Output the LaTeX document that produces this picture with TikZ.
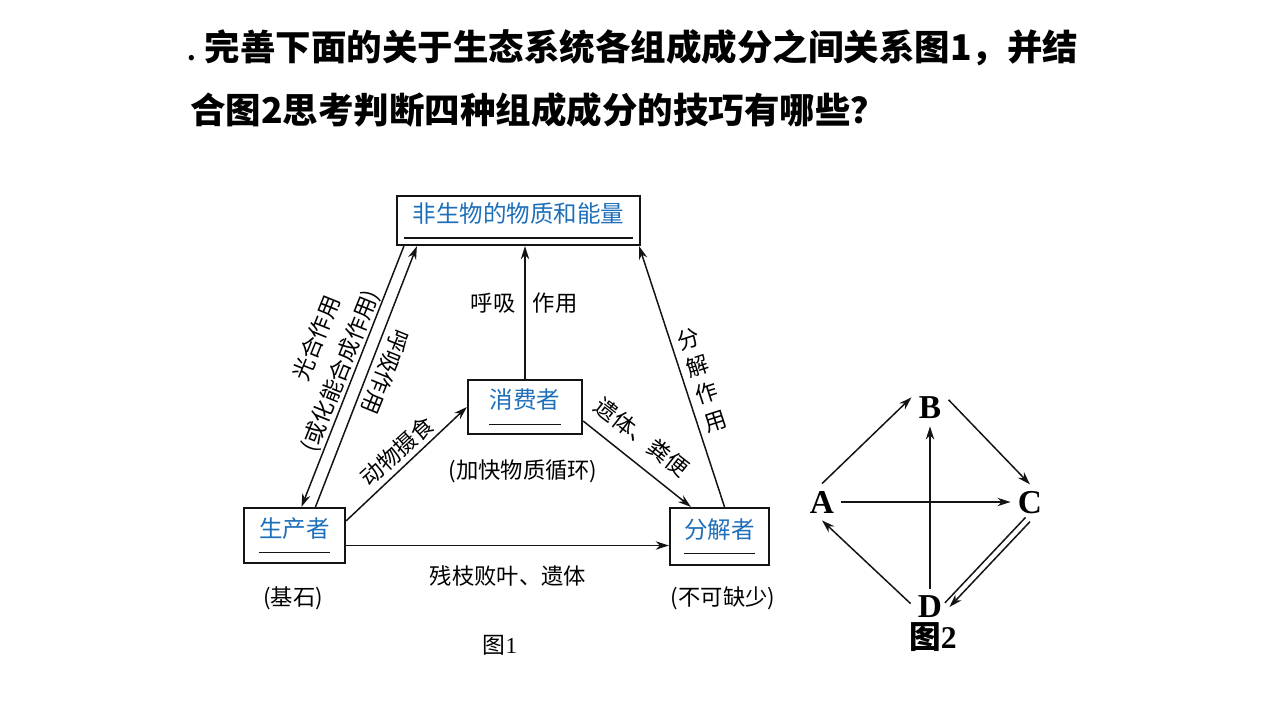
\documentclass[tikz,border=0pt]{standalone}
\usepackage{fontspec}
\usepackage{xcolor}
\usepackage{tikz}
\usetikzlibrary{arrows.meta,calc}
\setmainfont{Liberation Serif}
\newfontfamily\cjk{Noto Sans CJK SC}
\definecolor{blueans}{HTML}{1E6FBA}
\definecolor{blackline}{HTML}{141414}
\tikzset{every node/.append style={font=\cjk}}

\begin{document}
\begin{tikzpicture}[x=0.02cm,y=-0.02cm,>={Stealth[length=7.5pt,width=4.8pt]},
  comp/.style={draw=blackline,line width=1.3pt,align=center,inner sep=0pt,
    text=blueans,font=\cjk\fontsize{13.4}{9.2}\selectfont},
  lbl/.style={font=\cjk\fontsize{12.7}{16.3}\selectfont,inner sep=1pt},
  arr/.style={->,line width=0.85pt,blackline},
  letter/.style={font=\bfseries\fontsize{19}{19}\selectfont,inner sep=4pt},
  ttl/.style={anchor=west,inner sep=0pt,font=\cjk\bfseries\fontsize{20.2}{24}\selectfont}]
  \useasboundingbox (0,0) rectangle (1280,720);
  \node[ttl] (title1) at (187,48) {{\fontsize{14}{14}\selectfont.}\hspace{5pt}完善下面的关于生态系统各组成成分之间关系图1，并结};
  \node[ttl] (title2) at (190,110) {合图2思考判断四种组成成分的技巧有哪些？};
  \begin{scope}
    \node[comp,minimum width=4.86cm,minimum height=0.98cm] (abio) at (518.5,220.5)
      {非生物的物质和能量\\{\color{blackline}\rule{4.6cm}{0.7pt}}};
    \node[comp,minimum width=2.28cm,minimum height=1.08cm] (cons) at (525,407)
      {消费者\\{\color{blackline}\rule{1.44cm}{0.7pt}}};
    \node[comp,minimum width=2.02cm,minimum height=1.1cm] (prod) at (294.5,535.5)
      {生产者\\{\color{blackline}\rule{1.44cm}{0.7pt}}};
    \node[comp,minimum width=1.98cm,minimum height=1.14cm] (decomp) at (719.5,536.5)
      {分解者\\{\color{blackline}\rule{1.42cm}{0.7pt}}};
    \draw[arr] ($(abio.south west)+(8,0)$) -- ($(prod.north)+(7,0)$);
    \draw[arr] ($(prod.north)+(21,0)$) -- ($(abio.south west)+(21,0)$);
    \draw[arr] (cons.north) -- (cons.north |- abio.south);
    \draw[arr] ($(decomp.north)+(5,0)$) -- ($(abio.south east)+(-2,0)$);
    \draw[arr] ($(prod.north east)+(0,14)$) -- (cons.west);
    \draw[arr] ($(cons.east)+(0,14)$) -- ($(decomp.north west)+(22,0)$);
    \draw[arr] ($(prod.east)+(0,10)$) -- ($(decomp.west)+(0,9)$);
    \node[lbl] (huxi) at (493,303) {呼吸};
    \node[lbl] (zuoyong) at (555,303) {作用};
    \node[lbl,rotate=68] (guanghe) at (316,338) {光合作用};
    \node[lbl,rotate=68] (huacheng) at (341,371) {(或化能合成作用)};
    \node[lbl,rotate=-112] (huxiL) at (386,372) {呼吸作用};
    \node[lbl,rotate=42] (sheshi) at (397,451) {动物摄食};
    \node[lbl] (xunhuan) at (523,471) {(加快物质循环)};
    \node[lbl,rotate=-38] (yiti) at (642,437) {遗体、粪便};
    \node[lbl,rotate=18,align=center] (fenjie) at (702,380) {分\\解\\作\\用};
    \node[lbl] (canzhi) at (508,576) {残枝败叶、遗体};
    \node[lbl] (jishi) at (293,598) {(基石)};
    \node[lbl] (bukeque) at (723,598) {(不可缺少)};
    \node[font=\fontsize{13}{16}\selectfont] (tu1) at (500,645) {{\cjk 图}1};
  \end{scope}
  \begin{scope}
    \node[letter] (A) at (822,502) {A};
    \node[letter] (B) at (930,408) {B};
    \node[letter] (C) at (1030,503) {C};
    \node[letter] (D) at (930,607) {D};
    \node[font=\bfseries\fontsize{18}{18}\selectfont] (tu2) at (933,637) {{\cjk 图}2};
    \draw[arr] (A.north) -- (B.150);
    \draw[arr] (B.24) -- (C.north);
    \draw[arr] (A.east) -- (A.east -| C.west);
    \draw[arr] (D.north) -- (B.south);
    \draw[arr] (D.170) -- (A.south);
    \draw[arr] (C.south) -- (D.east);
    \draw[line width=0.85pt,blackline] ($(C.south)!3.5pt!-90:(D.east)$)
      -- ($(D.east)!3.5pt!90:(C.south)$);
  \end{scope}
\end{tikzpicture}
\end{document}
